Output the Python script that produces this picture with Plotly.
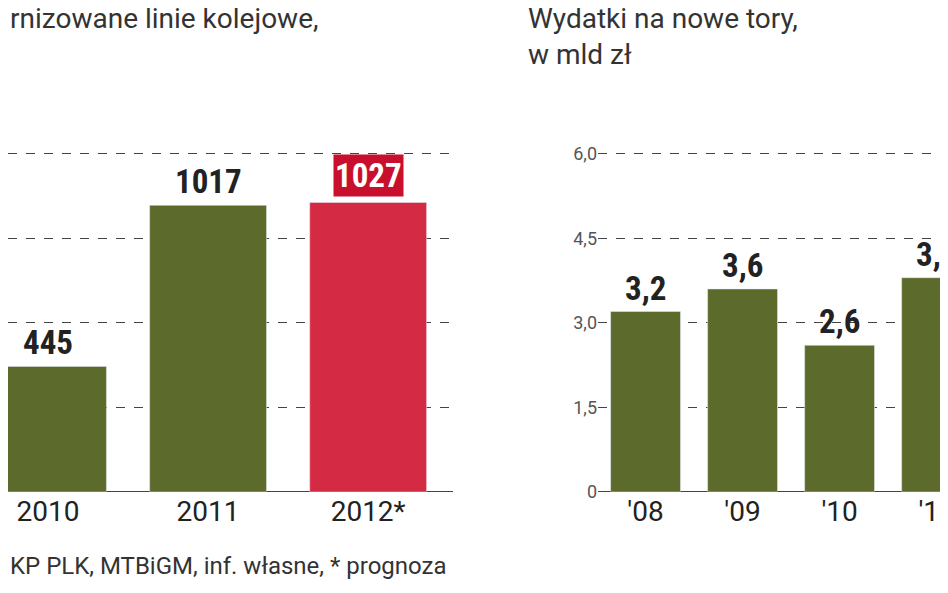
import plotly.graph_objects as go

left_cats = ["2010", "2011", "2012*"]
left_vals = [445, 1017, 1027]
right_cats = ["'08", "'09", "'10", "'11"]
right_vals = [3.2, 3.6, 2.6, 3.8]
right_labels = ["3,2", "3,6", "2,6", "3,8"]
right_ticks = [0, 1.5, 3.0, 4.5, 6.0]
right_ticktext = ["0", "1,5", "3,0", "4,5", "6,0"]

GREEN = "#5c6b2b"
RED = "#d42a44"
NARROW = "Roboto Condensed, Liberation Sans Narrow, Roboto, Arial"
FONT = "Roboto, Arial"

fig = go.Figure()
fig.add_bar(x=left_cats, y=left_vals, marker_color=[GREEN, GREEN, RED],
            width=0.73, xaxis="x", yaxis="y")
fig.add_bar(x=right_cats, y=right_vals, marker_color=GREEN,
            width=0.72, xaxis="x2", yaxis="y2")

ann = []
for i, v in enumerate(left_vals):
    if i == len(left_vals) - 1:
        ann.append(dict(x=i, y=v, xref="x", yref="y", text=f"<b>{v}</b>", showarrow=False,
                        yanchor="bottom", yshift=6, bgcolor="#c8102e", borderpad=1,
                        font=dict(family=NARROW, size=33, color="white")))
    else:
        ann.append(dict(x=i, y=v, xref="x", yref="y", text=f"<b>{v}</b>", showarrow=False,
                        yanchor="bottom", yshift=2,
                        font=dict(family=NARROW, size=33, color="#222")))
for i, (v, t) in enumerate(zip(right_vals, right_labels)):
    ann.append(dict(x=i, y=v, xref="x2", yref="y2", text=f"<b>{t}</b>", showarrow=False,
                    yanchor="bottom", yshift=2,
                    font=dict(family=NARROW, size=33, color="#222")))
ann += [
    dict(x=0, y=1.0, xref="paper", yref="paper", xanchor="left", yanchor="top", yshift=8,
         text="rnizowane linie kolejowe,", showarrow=False,
         font=dict(family=FONT, size=28, color="#333")),
    dict(x=518/948, y=1.0, xref="paper", yref="paper", xanchor="left", yanchor="top", yshift=8,
         text="Wydatki na nowe tory,<br>w mld zł", showarrow=False, align="left",
         font=dict(family=FONT, size=28, color="#333")),
    dict(x=0, y=(593-568)/593, xref="paper", yref="paper", xanchor="left", yanchor="middle",
         text="KP PLK, MTBiGM, inf. własne, * prognoza", showarrow=False,
         font=dict(family=FONT, size=24, color="#333")),
]

y0, y1 = (593-492)/593, (593-134)/593
grid = dict(showgrid=True, gridcolor="#444", griddash="dash", gridwidth=1,
            zeroline=True, zerolinecolor="#444", zerolinewidth=1)
fig.update_layout(
    width=948, height=593, margin=dict(l=0, r=0, t=0, b=0),
    paper_bgcolor="white", plot_bgcolor="white", showlegend=False,
    annotations=ann,
    xaxis=dict(domain=[0, 445/948], range=[-0.25, 2.53], tickfont=dict(family=FONT, size=28, color="#222"),
               ticks="", showline=False),
    yaxis=dict(domain=[y0, y1], range=[0, 1250], tickvals=[300, 600, 900, 1200],
               showticklabels=False, **grid),
    xaxis2=dict(domain=[590/948, 1], range=[-0.49, 3.2], anchor="y2",
                tickfont=dict(family=FONT, size=28, color="#222"), ticks=""),
    yaxis2=dict(domain=[y0, y1], range=[0, 6.25], anchor="x2", tickvals=right_ticks,
                ticktext=right_ticktext, tickfont=dict(family=FONT, size=18, color="#555"),
                **grid),
)
fig.write_html("out.html")
